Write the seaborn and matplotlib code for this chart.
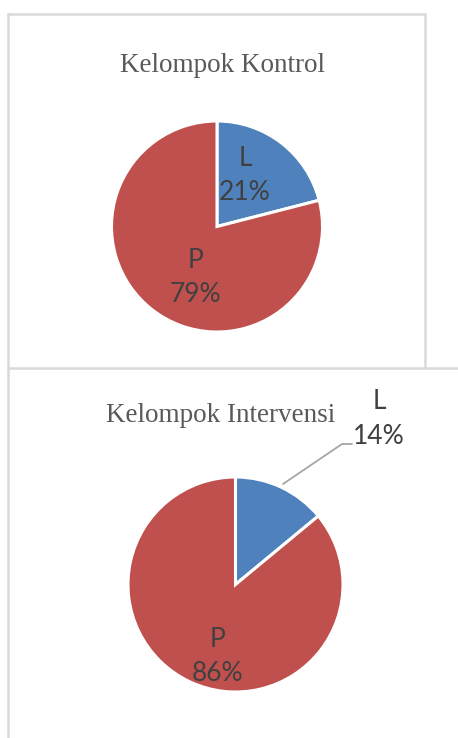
import matplotlib
matplotlib.use("Agg")
import matplotlib.pyplot as plt
import seaborn as sns
from matplotlib.lines import Line2D

# ---- data ----
groups = ["Kelompok Kontrol", "Kelompok Intervensi"]
categories = ["L", "P"]
kontrol_pct = [21, 79]
intervensi_pct = [14, 86]
colors = ["#4F81BD", "#C0504D"]

sns.set_theme(style="white")
plt.rcParams["font.family"] = ["Lato", "DejaVu Sans"]

W, H = 458, 738
fig = plt.figure(figsize=(W / 100, H / 100), dpi=100)
fig.patch.set_facecolor("white")


def px_axes(cx, cy, r):
    # axes square around a pie centre given in pixel coords (from top-left)
    return fig.add_axes([(cx - r) / W, (H - cy - r) / H, 2 * r / W, 2 * r / H])


def draw_pie(ax, values):
    wedges, _ = ax.pie(values, colors=colors, startangle=90, counterclock=False,
                       radius=1.0, wedgeprops=dict(edgecolor="white", linewidth=2.2))
    ax.set_xlim(-1, 1)
    ax.set_ylim(-1, 1)
    ax.set_aspect("auto")
    ax.axis("off")
    return wedges


lab_kw = dict(fontsize=19, color="#404040", ha="center", va="center",
              linespacing=1.46)
title_kw = dict(fontsize=19.5, color="#595959", ha="center", va="center",
                family="Liberation Serif")

# ---- top pie ----
r1 = 105.5
ax1 = px_axes(217, 226.5, r1)
draw_pie(ax1, kontrol_pct)
ax1.text(0.265, 0.48, f"{categories[0]}\n{kontrol_pct[0]}%", **lab_kw)
ax1.text(-0.20, -0.48, f"{categories[1]}\n{kontrol_pct[1]}%", **lab_kw)
fig.text(222 / W, 1 - 66 / H, groups[0], **title_kw)

# ---- bottom pie ----
r2 = 107.5
ax2 = px_axes(235.5, 584.5, r2)
draw_pie(ax2, intervensi_pct)
ax2.text(-0.17, -0.67, f"{categories[1]}\n{intervensi_pct[1]}%", **lab_kw)
fig.text(379 / W, 1 - 419 / H, f"{categories[0]}\n{intervensi_pct[0]}%", **lab_kw)
fig.text(221 / W, 1 - 415 / H, groups[1], **title_kw)

# leader line for L (bottom pie)
def P(x, y):
    return (x / W, 1 - y / H)

lx = [P(283, 484)[0], P(342, 444)[0], P(352, 444)[0]]
ly = [P(283, 484)[1], P(342, 444)[1], P(352, 444)[1]]
fig.add_artist(Line2D(lx, ly, color="#A6A6A6", lw=1.3))

# ---- panel borders ----
bc = "#D9D9D9"
fig.add_artist(Line2D([8 / W, 425 / W], [1 - 14 / H, 1 - 14 / H], color=bc, lw=1.8))
fig.add_artist(Line2D([8 / W, 8 / W], [1 - 14 / H, 0], color=bc, lw=1.8))
fig.add_artist(Line2D([425 / W, 425 / W], [1 - 14 / H, 1 - 368 / H], color=bc, lw=1.8))
fig.add_artist(Line2D([8 / W, 1], [1 - 368 / H, 1 - 368 / H], color=bc, lw=1.8))

fig.savefig("out.png", dpi=100, facecolor="white")
